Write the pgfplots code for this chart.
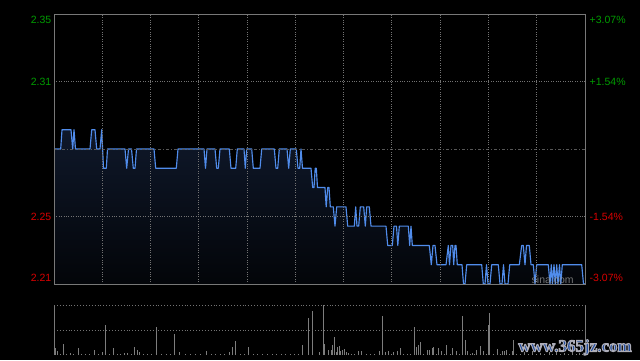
\documentclass[border=0pt]{standalone}
\usepackage{pgfplots}
\usepackage{pgfplotstable}
\pgfplotsset{compat=1.18}
\usepackage{fontspec}
\setmainfont{Liberation Sans}
\newfontfamily\wmfont{Liberation Serif}
\definecolor{upgreen}{RGB}{0,155,0}
\definecolor{downred}{RGB}{215,0,0}
\definecolor{bordergray}{RGB}{120,120,120}
\definecolor{gridgray}{RGB}{115,115,115}
\definecolor{lineblue}{RGB}{80,140,235}
\definecolor{fillnavy}{RGB}{15,24,42}
\definecolor{fillbottom}{RGB}{3,5,9}
\definecolor{volgray}{RGB}{125,125,125}
\definecolor{wmblue}{RGB}{30,75,160}

% x = position along the trading day (0..531, 11 half-hour intervals), y = price
\pgfplotstableread{
x y
0 2.28
6.7 2.28
8 2.29
17 2.29
18.7 2.28
20 2.29
21.5 2.28
36 2.28
37.7 2.29
41 2.29
42.7 2.28
46 2.28
47.7 2.29
49.5 2.27
52.3 2.27
53.5 2.28
71 2.28
72.7 2.27
74.5 2.28
77.5 2.28
79.3 2.27
81 2.27
82.5 2.28
100 2.28
101.7 2.27
122.3 2.27
124 2.28
150 2.28
151.5 2.27
153 2.28
161 2.28
162.7 2.27
164.3 2.27
166 2.28
175.3 2.28
177 2.27
181.7 2.27
183.3 2.28
190 2.28
191.3 2.27
192.7 2.28
197.7 2.28
199.3 2.27
206 2.27
207.7 2.28
220.3 2.28
222 2.27
223.7 2.27
225.3 2.28
233 2.28
234.7 2.27
236.3 2.28
242.3 2.28
244 2.27
245.7 2.27
247 2.28
248.5 2.27
257 2.27
258.7 2.26
260 2.26
261.2 2.27
262.3 2.27
263.5 2.26
271 2.26
272.2 2.25
273.7 2.26
275 2.26
276.3 2.25
279.3 2.25
281 2.24
282.7 2.25
292 2.25
293.7 2.24
300.3 2.24
301.7 2.25
303 2.24
304.7 2.24
306.3 2.25
309.7 2.25
311.3 2.24
312.7 2.25
315.3 2.25
317 2.24
332 2.24
333.7 2.23
338.3 2.23
340 2.24
342.5 2.24
343.8 2.23
345.3 2.24
354.3 2.24
355.7 2.23
357 2.24
358.3 2.23
375.3 2.23
377.3 2.22
379 2.23
381 2.23
383 2.22
392 2.22
394.3 2.23
395.5 2.22
397 2.23
398.7 2.23
399.7 2.22
401 2.23
402 2.23
403.3 2.22
408 2.22
409.5 2.21
411 2.21
412.7 2.22
427.7 2.22
429.3 2.21
431 2.21
432.5 2.22
434 2.21
436 2.21
437.7 2.22
444.3 2.22
446 2.21
448 2.21
449.5 2.22
451 2.21
454 2.21
455.7 2.22
465.3 2.22
467.7 2.23
469.3 2.23
471 2.22
472.5 2.23
475.3 2.23
477 2.22
479.3 2.22
481 2.21
482.7 2.22
494.3 2.22
496 2.21
497.3 2.22
498.5 2.21
500 2.22
501.3 2.21
502.7 2.22
504 2.21
505.5 2.22
506.8 2.21
508.3 2.22
527.7 2.22
529.5 2.21
531 2.21
}\pricedata

% volume bars: x position, bar height (panel height = 50)
\pgfplotstableread{
x v
1 6.7
3.3 4
9.3 11
16.7 1.7
24.3 7
40.3 5
48.3 3
51.3 30
59.3 7
70 1.7
73.7 2.3
80.3 8
83.3 5
85.3 3
102.3 28
120.3 21
125.3 3
152.7 4
175.7 3
178.3 8
181.3 14
194.3 8
248.3 10
254.3 37
258.3 44
265 3
269.3 50
270.3 11
274.3 5
277 5
278.3 10
280.3 18
282 3
283.3 8
285.3 9
286.3 4
288 5
290.3 6
292 3
294 2
304 4
307.7 4
325.3 4
328.3 39
331.7 3
334.3 4
339.3 3
343.3 4
346 7
360 28
362.7 8
364.7 10
366.3 13
373.3 5
375.3 5
378 7
379.3 8
384.3 7
387.7 4
392.3 10
398.3 7
402.7 4
408.3 39
411.3 15
413.3 4
418.3 2
422.7 5
426 9
429.3 4
434.3 30
435.3 42
443.3 6
448.7 4
450.3 4
452.7 5
458.3 4
459.3 15
470 3
478 4
486 2
495 3
502 5
510 2
518 3
525 2
6 1.2
12 1.2
19 1.2
27 1.2
31 1.2
35 1.2
44 1.2
55 1.2
63 1.2
66 1.2
77 1.2
89 1.2
93 1.2
97 1.2
107 1.2
112 1.2
116 1.2
131 1.2
136 1.2
141 1.2
146 1.2
157 1.2
161 1.2
166 1.2
170 1.2
186 1.2
190 1.2
199 1.2
203 1.2
208 1.2
213 1.2
218 1.2
222 1.2
227 1.2
231 1.2
236 1.2
240 1.2
244 1.2
297 1.2
300 1.2
312 1.2
316 1.2
320 1.2
337 1.2
349 1.2
353 1.2
356 1.2
369 1.2
382 1.2
390 1.2
396 1.2
405 1.2
416 1.2
420 1.2
432 1.2
439 1.2
446 1.2
455 1.2
462 1.2
466 1.2
474 1.2
482 1.2
490 1.2
498 1.2
506 1.2
514 1.2
522 1.2
528 1.2
}\voldata

% same price path closed along the bottom edge, for the shaded area
\pgfplotstableread{
x y
0 2.21
0 2.28
6.7 2.28
8 2.29
17 2.29
18.7 2.28
20 2.29
21.5 2.28
36 2.28
37.7 2.29
41 2.29
42.7 2.28
46 2.28
47.7 2.29
49.5 2.27
52.3 2.27
53.5 2.28
71 2.28
72.7 2.27
74.5 2.28
77.5 2.28
79.3 2.27
81 2.27
82.5 2.28
100 2.28
101.7 2.27
122.3 2.27
124 2.28
150 2.28
151.5 2.27
153 2.28
161 2.28
162.7 2.27
164.3 2.27
166 2.28
175.3 2.28
177 2.27
181.7 2.27
183.3 2.28
190 2.28
191.3 2.27
192.7 2.28
197.7 2.28
199.3 2.27
206 2.27
207.7 2.28
220.3 2.28
222 2.27
223.7 2.27
225.3 2.28
233 2.28
234.7 2.27
236.3 2.28
242.3 2.28
244 2.27
245.7 2.27
247 2.28
248.5 2.27
257 2.27
258.7 2.26
260 2.26
261.2 2.27
262.3 2.27
263.5 2.26
271 2.26
272.2 2.25
273.7 2.26
275 2.26
276.3 2.25
279.3 2.25
281 2.24
282.7 2.25
292 2.25
293.7 2.24
300.3 2.24
301.7 2.25
303 2.24
304.7 2.24
306.3 2.25
309.7 2.25
311.3 2.24
312.7 2.25
315.3 2.25
317 2.24
332 2.24
333.7 2.23
338.3 2.23
340 2.24
342.5 2.24
343.8 2.23
345.3 2.24
354.3 2.24
355.7 2.23
357 2.24
358.3 2.23
375.3 2.23
377.3 2.22
379 2.23
381 2.23
383 2.22
392 2.22
394.3 2.23
395.5 2.22
397 2.23
398.7 2.23
399.7 2.22
401 2.23
402 2.23
403.3 2.22
408 2.22
409.5 2.21
411 2.21
412.7 2.22
427.7 2.22
429.3 2.21
431 2.21
432.5 2.22
434 2.21
436 2.21
437.7 2.22
444.3 2.22
446 2.21
448 2.21
449.5 2.22
451 2.21
454 2.21
455.7 2.22
465.3 2.22
467.7 2.23
469.3 2.23
471 2.22
472.5 2.23
475.3 2.23
477 2.22
479.3 2.22
481 2.21
482.7 2.22
494.3 2.22
496 2.21
497.3 2.22
498.5 2.21
500 2.22
501.3 2.21
502.7 2.22
504 2.21
505.5 2.22
506.8 2.21
508.3 2.22
527.7 2.22
529.5 2.21
531 2.21
}\filldata

\begin{document}
\begin{tikzpicture}[x=1pt,y=1pt]
\fill[black] (0,0) rectangle (640,360);

\begin{axis}[
  at={(54pt,76pt)}, anchor=south west,
  width=531pt, height=270pt, scale only axis,
  xmin=0, xmax=531, ymin=2.21, ymax=2.35,
  xtick={48.27,96.55,144.82,193.09,241.36,289.64,337.91,386.18,434.45,482.73},
  ytick={2.245,2.315},
  xticklabels={}, yticklabels={},
  major tick length=0pt,
  grid=major,
  grid style={gridgray, dotted, line width=0.9pt},
  axis line style={bordergray, line width=1pt},
  axis on top,
]
\addplot[draw=none, fill=fillnavy, top color=fillnavy, bottom color=fillbottom]
  table[x=x,y=y] {\filldata};
\addplot[lineblue, line width=1.15pt, line join=round, mark=none]
  table[x=x,y=y] {\pricedata};
\addplot[gridgray!120, dash pattern=on 3pt off 2pt on 1pt off 2pt, line width=0.8pt]
  coordinates {(0,2.28) (531,2.28)};
\end{axis}

\begin{axis}[
  at={(54pt,5pt)}, anchor=south west,
  width=531pt, height=50pt, scale only axis,
  xmin=0, xmax=531, ymin=0, ymax=50,
  hide axis, clip=false,
]
\addplot[ycomb, volgray, line width=1pt, mark=none] table[x=x,y=v] {\voldata};
\draw[bordergray, line width=1pt] (rel axis cs:0,0) -- (rel axis cs:0,1);
\draw[bordergray, line width=1pt] (rel axis cs:1,0) -- (rel axis cs:1,1);
\draw[gridgray, dotted, line width=0.9pt] (rel axis cs:0,1) -- (rel axis cs:1,1);
\draw[gridgray, dotted, line width=0.9pt] (rel axis cs:0,0.5) -- (rel axis cs:1,0.5);
\end{axis}

% price labels
\begin{scope}[every node/.style={inner sep=0pt, font=\fontsize{10.5}{12}\selectfont}]
\node[anchor=east, text=upgreen] at (51.5,340) {2.35};
\node[anchor=east, text=upgreen] at (51.5,278) {2.31};
\node[anchor=east, text=downred] at (51.5,143) {2.25};
\node[anchor=east, text=downred] at (51.5,82) {2.21};
\node[anchor=west, text=upgreen] at (589.5,340) {+3.07\%};
\node[anchor=west, text=upgreen] at (589.5,278) {+1.54\%};
\node[anchor=west, text=downred] at (589.5,143) {-1.54\%};
\node[anchor=west, text=downred] at (589.5,82) {-3.07\%};
\node[anchor=west, text=black!40!white, opacity=0.75] at (531.5,80.7) {sina.com};
\end{scope}

% watermark: blue text with a light outline (fill + stroke render mode)
\node[anchor=base, inner sep=0pt, text=wmblue, font=\wmfont\bfseries\fontsize{17}{18}\selectfont] at (575,8.5)
  {\special{pdf:literal direct 0.68 0.68 0.72 RG 1.0 w 2 Tr}www.365jz.com\special{pdf:literal direct 0 Tr 0.4 w}};
\end{tikzpicture}
\end{document}
